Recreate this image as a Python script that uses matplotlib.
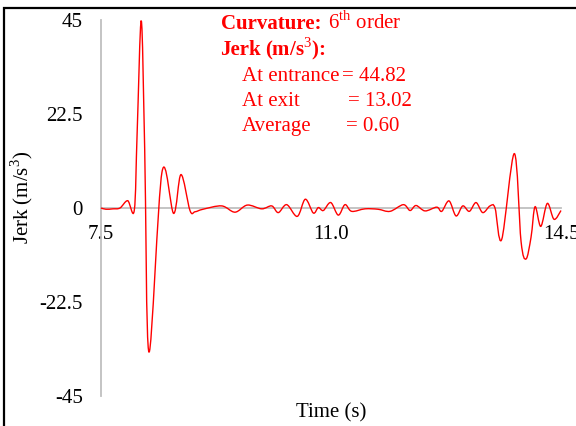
import matplotlib
matplotlib.use("Agg")
import matplotlib.pyplot as plt
import numpy as np
from matplotlib.path import Path
from matplotlib.patches import PathPatch, Rectangle

plt.rcParams['font.family'] = ['Liberation Serif', 'DejaVu Serif']
plt.rcParams['mathtext.fontset'] = 'custom'
plt.rcParams['mathtext.rm'] = 'Liberation Serif'
plt.rcParams['mathtext.bf'] = 'Liberation Serif:bold'

# ---- data ----
time_s = [7.500, 7.576, 7.683, 7.789, 7.906, 8.007, 8.050, 8.113, 8.165, 8.230, 8.428, 8.606,
          8.717, 8.854, 8.931, 9.052, 9.337, 9.539, 9.726, 9.946, 10.098, 10.198,
          10.326, 10.487, 10.609, 10.731, 10.807, 10.883, 10.996, 11.111, 11.213, 11.315,
          11.518, 11.716, 11.898, 12.101, 12.203, 12.294, 12.431, 12.609, 12.685, 12.796,
          12.903, 13.005, 13.105, 13.207, 13.309, 13.420, 13.496, 13.598, 13.790, 13.892,
          13.968, 14.044, 14.105, 14.192, 14.292, 14.394, 14.500]
jerk = [0.0, -0.3, -0.2, 0.0, 1.75, -0.5, 18.0, 44.82, 14.0, -34.5, 8.6, -1.3,
        8.0, -0.6, -0.9, -0.3, 0.5, -1.0, 0.7, -0.2, 0.5, -1.1,
        0.8, -2.0, 2.1, -1.2, 0.1, -0.6, 1.3, -1.7, 0.8, -0.8,
        -0.2, -0.3, -0.8, 0.8, -0.6, 0.6, -0.7, 0.2, -0.8, 1.7,
        -1.9, 0.5, -0.8, 1.3, -1.1, 0.5, 0.0, -7.5, 13.02, -8.0,
        -12.2, -7.0, 0.3, -4.4, 1.1, -2.7, -0.6]

x_ticks = [7.5, 11.0, 14.5]
x_tick_labels = ['7.5', '11.0', '14.5']
y_ticks = [-45, -22.5, 0, 22.5, 45]
y_tick_labels = ['-45', '-22.5', '0', '22.5', '45']

W, H = 576, 426
fig = plt.figure(figsize=(W / 100, H / 100), dpi=100)

def fx(px):
    return px / W

def fy(py):
    return 1 - py / H

# axes: x 7.5 -> 101px, 14.5 -> 561px; y 45 -> 20px, -45 -> 396px
ax = fig.add_axes([fx(101), fy(396), (561 - 101) / W, (396 - 20) / H])
ax.set_xlim(7.5, 14.5)
ax.set_ylim(-45, 45)

grey = '#bfbfbf'
for s in ['top', 'right']:
    ax.spines[s].set_visible(False)
ax.spines['left'].set_color(grey)
ax.spines['left'].set_linewidth(1.3)
ax.spines['bottom'].set_position(('data', 0))
ax.spines['bottom'].set_color(grey)
ax.spines['bottom'].set_linewidth(1.3)

ax.set_xticks(x_ticks)
ax.set_xticklabels(x_tick_labels)
ax.set_yticks(y_ticks)
ax.set_yticklabels(y_tick_labels)
ax.tick_params(axis='both', length=0, labelsize=15, colors='black')
ax.tick_params(axis='x', pad=12)
ax.tick_params(axis='y', pad=13)

# smoothed line (Catmull-Rom as cubic Bezier, like Excel smoothing)
P = np.column_stack([time_s, jerk])
n = len(P)
verts = [tuple(P[0])]
codes = [Path.MOVETO]
for i in range(n - 1):
    p0 = P[i - 1] if i > 0 else P[i]
    p1 = P[i]
    p2 = P[i + 1]
    p3 = P[i + 2] if i + 2 < n else P[i + 1]
    c1 = p1 + (p2 - p0) / 6.0
    c2 = p2 - (p3 - p1) / 6.0
    verts += [tuple(c1), tuple(c2), tuple(p2)]
    codes += [Path.CURVE4] * 3
ax.add_patch(PathPatch(Path(verts, codes), facecolor='none', edgecolor='#ff0000',
                       lw=1.0, zorder=3, clip_on=False))

# axis labels
fig.text(fx(331), fy(413), 'Time (s)', ha='center', va='center', fontsize=15)
fig.text(fx(22), fy(197), 'Jerk (m/s$^3$)', ha='center', va='center',
         rotation=90, fontsize=15)

# annotation
red = '#ff0000'
fs = 15
fig.text(fx(220.5), fy(29), 'Curvature:', color=red, fontsize=fs, fontweight='bold',
         ha='left', va='baseline')
fig.text(fx(328), fy(29), '6$^{\\mathrm{th}}$ order', color=red, fontsize=fs,
         ha='left', va='baseline')
fig.text(fx(220.5), fy(55), 'Jerk', color=red, fontsize=fs, fontweight='bold',
         ha='left', va='baseline')
fig.text(fx(265), fy(55), '(m/s$^3$):', color=red, fontsize=fs, fontweight='bold',
         ha='left', va='baseline')
fig.text(fx(241.5), fy(81), 'At entrance', color=red, fontsize=fs, ha='left', va='baseline')
fig.text(fx(342.5), fy(81), '= 44.82', color=red, fontsize=fs, ha='left', va='baseline')
fig.text(fx(241.5), fy(106), 'At exit', color=red, fontsize=fs, ha='left', va='baseline')
fig.text(fx(348), fy(106), '= 13.02', color=red, fontsize=fs, ha='left', va='baseline')
fig.text(fx(241.5), fy(131), 'Average', color=red, fontsize=fs, ha='left', va='baseline')
fig.text(fx(346.5), fy(131), '= 0.60', color=red, fontsize=fs, ha='left', va='baseline')

# outer border (partially visible)
fig.patches.append(Rectangle((fx(4), -0.2), 1.2, fy(8) + 0.2, transform=fig.transFigure,
                             fill=False, edgecolor='black', lw=1.6))

fig.savefig('out.png', dpi=100)
